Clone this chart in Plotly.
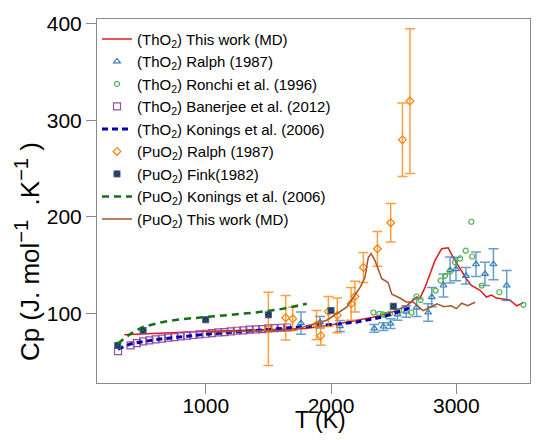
import plotly.graph_objects as go

# ---------------- data ----------------
tho2_md_T = [350, 600, 1000, 1400, 1800, 2070, 2335, 2500, 2604, 2683, 2710, 2750, 2790, 2830, 2883, 2935, 2975, 3030, 3080, 3120, 3190, 3240, 3280, 3320, 3380, 3425, 3482, 3532]
tho2_md_Cp = [78, 79.5, 81.5, 83, 84.5, 89.7, 96, 102, 108, 117, 116, 127, 141, 155, 167, 168, 158, 146, 136, 129, 124, 117, 119, 116, 115, 114, 108, 111]

tho2_ralph_T = [1760, 1912, 2071, 2345, 2418, 2475, 2530, 2600, 2683, 2775, 2804, 2897, 2950, 2997, 3077, 3157, 3229, 3296, 3402]
tho2_ralph_Cp = [90, 91, 87, 84.5, 86.5, 89.5, 99, 102, 106, 101, 117, 129, 145, 146, 139, 151, 141, 151, 129]
tho2_ralph_err = [11.6, 6, 5.7, 4, 4, 5, 6, 6, 9, 9, 10, 12, 13.5, 12, 8.5, 12.6, 12, 16, 15.5]

tho2_ronchi_T = [2338, 2386, 2413, 2435, 2470, 2544, 2643, 2683, 2715, 2835, 2875, 2910, 2950, 2990, 3030, 3075, 3120, 3127, 3203, 3343, 3535]
tho2_ronchi_Cp = [101, 99.7, 99, 98.5, 100, 102.4, 101, 117.6, 114, 123.7, 134, 139, 143.6, 153, 157, 165, 195, 159, 129, 122, 109]

tho2_banerjee_T = [300, 400, 450, 500, 550, 600, 650, 700, 750, 800, 850, 900, 950, 1000, 1050, 1100, 1150, 1200, 1250, 1300, 1350, 1400, 1450, 1500, 1550, 1600, 1650]
tho2_banerjee_Cp = [61, 67, 69.4, 71.1, 72.2, 73.2, 73.9, 74.9, 75.6, 76.3, 77, 77.7, 78.4, 79, 79.7, 80.4, 80.7, 81.4, 82.1, 82.5, 83.2, 83.5, 83.8, 84.5, 84.8, 85.2, 85.5]

tho2_konings_T = [298, 400, 600, 800, 1000, 1200, 1400, 1600, 1800, 2000, 2200, 2400, 2500, 2630]
tho2_konings_Cp = [63, 68.5, 73, 76, 78.5, 80.5, 82.5, 84, 86, 88.5, 91, 96, 100, 106]

puo2_ralph_T = [1500, 1638, 1694, 1884, 1918, 1979, 2050, 2160, 2191, 2258, 2370, 2476, 2570, 2630]
puo2_ralph_Cp = [84, 95.6, 94.5, 88, 77, 102, 98, 110, 117.5, 147.7, 167, 194, 280, 320]
puo2_ralph_err = [38, 23, 12, 15, 10, 15.5, 18, 17, 16, 15.5, 18, 20, 38, 75]

puo2_fink_T = [298, 500, 1000, 1500, 2000, 2497]
puo2_fink_Cp = [67, 82.5, 93.5, 98.6, 103, 107.5]

puo2_konings_T = [298, 400, 500, 650, 800, 1000, 1200, 1400, 1600, 1806]
puo2_konings_Cp = [69, 79, 86, 91, 94, 96.5, 99, 101, 104.5, 110]

puo2_md_T = [1000, 1400, 1700, 1966, 2125, 2232, 2270, 2297, 2320, 2350, 2405, 2455, 2485, 2550, 2600, 2655, 2735, 2800, 2845, 2900, 2960, 3000, 3043, 3090, 3150]
puo2_md_Cp = [80.5, 82, 83, 93, 106.5, 127, 137, 158, 162, 155, 136, 132, 120, 116, 112, 112, 103, 107, 110, 107, 108, 105, 110.6, 108, 111.6]

x_ticks = [1000, 2000, 3000]
y_ticks = [100, 200, 300, 400]

# ---------------- figure ----------------
FONT = "Liberation Sans, Arial, Helvetica, sans-serif"
fig = go.Figure()

fig.add_trace(go.Scatter(x=tho2_md_T, y=tho2_md_Cp, mode="lines",
                         line=dict(color="#e41a1c", width=1.5),
                         name="(ThO<sub>2</sub>) This work (MD)"))
fig.add_trace(go.Scatter(x=tho2_ralph_T, y=tho2_ralph_Cp, mode="markers",
                         marker=dict(symbol="triangle-up-open", size=6, color="#377eb8", line=dict(width=1.2)),
                         error_y=dict(type="data", array=tho2_ralph_err, visible=True,
                                      color="rgba(55,126,184,0.75)", thickness=1.5, width=5),
                         name="(ThO<sub>2</sub>) Ralph (1987)"))
fig.add_trace(go.Scatter(x=tho2_ronchi_T, y=tho2_ronchi_Cp, mode="markers",
                         marker=dict(symbol="circle-open", size=5, color="#4daf4a", line=dict(width=1.2)),
                         name="(ThO<sub>2</sub>) Ronchi et al. (1996)"))
fig.add_trace(go.Scatter(x=tho2_banerjee_T, y=tho2_banerjee_Cp, mode="markers",
                         marker=dict(symbol="square-open", size=7, color="#984ea3", line=dict(width=1.2)),
                         name="(ThO<sub>2</sub>) Banerjee et al. (2012)"))
fig.add_trace(go.Scatter(x=tho2_konings_T, y=tho2_konings_Cp, mode="lines",
                         line=dict(color="#0000b0", width=3, dash="6px,4px"),
                         name="(ThO<sub>2</sub>) Konings et al. (2006)"))
fig.add_trace(go.Scatter(x=puo2_ralph_T, y=puo2_ralph_Cp, mode="markers",
                         marker=dict(symbol="diamond-open", size=6, color="#ff7f00", line=dict(width=1.2)),
                         error_y=dict(type="data", array=puo2_ralph_err, visible=True,
                                      color="rgba(255,127,0,0.75)", thickness=1.5, width=5),
                         name="(PuO<sub>2</sub>) Ralph (1987)"))
fig.add_trace(go.Scatter(x=puo2_fink_T, y=puo2_fink_Cp, mode="markers",
                         marker=dict(symbol="square-x", size=6, color="#16294a",
                                     line=dict(width=1, color="#3f5f88")),
                         name="(PuO<sub>2</sub>) Fink(1982)"))
fig.add_trace(go.Scatter(x=puo2_konings_T, y=puo2_konings_Cp, mode="lines",
                         line=dict(color="#137013", width=2.5, dash="7px,5px"),
                         name="(PuO<sub>2</sub>) Konings et al. (2006)"))
fig.add_trace(go.Scatter(x=puo2_md_T, y=puo2_md_Cp, mode="lines", xaxis="x2",
                         line=dict(color="#a65628", width=1.5),
                         name="(PuO<sub>2</sub>) This work (MD)"))

axis_common = dict(showline=True, mirror=True, linecolor="#8a8a8a", linewidth=1,
                   ticks="outside", ticklen=10, tickcolor="#8a8a8a", tickwidth=1,
                   showgrid=False, zeroline=False,
                   tickfont=dict(family=FONT, size=21, color="black"))

fig.update_layout(
    width=538, height=440,
    margin=dict(l=97, r=8, t=19, b=57),
    paper_bgcolor="white", plot_bgcolor="white",
    font=dict(family=FONT, color="black"),
    xaxis=dict(range=[132, 3588], tickvals=x_ticks, showticklabels=False, **axis_common),
    xaxis2=dict(range=[132, 3588], matches="x", overlaying="x", anchor="y", side="bottom",
                tickvals=x_ticks, showline=False, showgrid=False, zeroline=False,
                ticks="outside", ticklen=4, tickcolor="rgba(0,0,0,0)",
                tickfont=dict(family=FONT, size=21, color="black")),
    yaxis=dict(range=[28, 405], tickvals=y_ticks, **axis_common),
    showlegend=True,
    legend=dict(x=0.0, y=0.99, xanchor="left", yanchor="top",
                bgcolor="rgba(0,0,0,0)", borderwidth=0,
                font=dict(family=FONT, size=15, color="black"),
                itemwidth=30, tracegroupgap=0),
    annotations=[
        dict(text="T (K)", x=0.517, y=-0.1016, xref="paper", yref="paper",
             showarrow=False, xanchor="center", yanchor="middle",
             font=dict(family=FONT, size=23, color="black")),
        dict(text="Cp\u00a0(J.\u00a0mol<sup><span style=\"font-size:20px\">\u22121</span></sup>\u00a0\u00a0.K<sup><span style=\"font-size:20px\">\u22121</span></sup>\u00a0)",
             x=-0.159, y=0.36,
             xref="paper", yref="paper", showarrow=False, textangle=-90,
             xanchor="center", yanchor="middle",
             font=dict(family=FONT, size=26, color="black")),
    ],
)

fig.write_html("out.html")
